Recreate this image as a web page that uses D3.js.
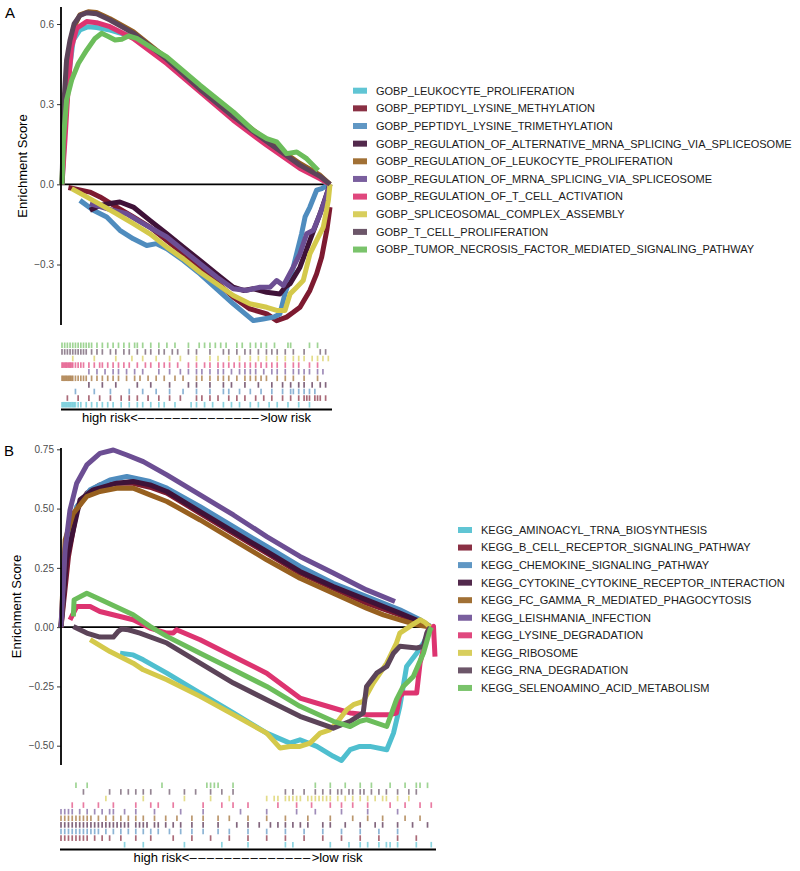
<!DOCTYPE html>
<html><head><meta charset="utf-8">
<script src="https://cdn.jsdelivr.net/npm/d3@7"></script>
<style>
body{margin:0;background:#fff}
text{font-family:"Liberation Sans",Arial,Helvetica,sans-serif}
</style></head>
<body><svg id="chart" width="800" height="871"></svg>
<script>
// ---------------- Panel A data (rank fraction, enrichment score) ----------------
const gobpNames = ["GOBP_LEUKOCYTE_PROLIFERATION","GOBP_PEPTIDYL_LYSINE_METHYLATION","GOBP_PEPTIDYL_LYSINE_TRIMETHYLATION","GOBP_REGULATION_OF_ALTERNATIVE_MRNA_SPLICING_VIA_SPLICEOSOME","GOBP_REGULATION_OF_LEUKOCYTE_PROLIFERATION","GOBP_REGULATION_OF_MRNA_SPLICING_VIA_SPLICEOSOME","GOBP_REGULATION_OF_T_CELL_ACTIVATION","GOBP_SPLICEOSOMAL_COMPLEX_ASSEMBLY","GOBP_T_CELL_PROLIFERATION","GOBP_TUMOR_NECROSIS_FACTOR_MEDIATED_SIGNALING_PATHWAY"];
const keggNames = ["KEGG_AMINOACYL_TRNA_BIOSYNTHESIS","KEGG_B_CELL_RECEPTOR_SIGNALING_PATHWAY","KEGG_CHEMOKINE_SIGNALING_PATHWAY","KEGG_CYTOKINE_CYTOKINE_RECEPTOR_INTERACTION","KEGG_FC_GAMMA_R_MEDIATED_PHAGOCYTOSIS","KEGG_LEISHMANIA_INFECTION","KEGG_LYSINE_DEGRADATION","KEGG_RIBOSOME","KEGG_RNA_DEGRADATION","KEGG_SELENOAMINO_ACID_METABOLISM"];
const seriesColors = ["#4fbfcf","#7d1a30","#4f8cbe","#3f1238","#97601f","#6c4e93","#dd3470","#d4c94b","#5c4459","#6cbd5b"];

const yTicksA = [-0.3, 0.0, 0.3, 0.6];
const yTicksB = [-0.50, -0.25, 0.00, 0.25, 0.50, 0.75];

const gobpLeukocyteProliferation = [[0,0],[0.011,0.215],[0.024,0.4],[0.042,0.54],[0.067,0.578],[0.098,0.59],[0.129,0.587],[0.179,0.577],[0.266,0.552],[0.391,0.465],[0.515,0.352],[0.639,0.253],[0.764,0.159],[0.888,0.067],[0.963,0.027],[1.0,0]];
const gobpPeptidylLysineMethylation = [[0.024,-0.012],[0.104,-0.029],[0.142,-0.047],[0.204,-0.085],[0.266,-0.122],[0.328,-0.16],[0.391,-0.21],[0.453,-0.26],[0.515,-0.31],[0.577,-0.366],[0.639,-0.422],[0.701,-0.466],[0.764,-0.485],[0.801,-0.51],[0.838,-0.497],[0.863,-0.479],[0.888,-0.46],[0.925,-0.397],[0.95,-0.335],[0.969,-0.272],[0.988,-0.172],[1.0,-0.085]];
const gobpPeptidylLysineTrimethylation = [[0.067,-0.06],[0.117,-0.097],[0.167,-0.122],[0.216,-0.172],[0.266,-0.204],[0.316,-0.229],[0.353,-0.222],[0.391,-0.241],[0.453,-0.285],[0.515,-0.335],[0.577,-0.391],[0.639,-0.447],[0.677,-0.479],[0.714,-0.51],[0.751,-0.504],[0.789,-0.497],[0.813,-0.485],[0.832,-0.41],[0.863,-0.31],[0.894,-0.185],[0.907,-0.122],[0.925,-0.085],[0.95,-0.022],[0.969,-0.016],[0.994,0]];
const gobpAltMrnaSplicing = [[0.104,-0.097],[0.142,-0.079],[0.179,-0.072],[0.216,-0.066],[0.266,-0.085],[0.328,-0.135],[0.391,-0.185],[0.453,-0.235],[0.515,-0.285],[0.577,-0.335],[0.639,-0.385],[0.677,-0.397],[0.714,-0.391],[0.764,-0.404],[0.813,-0.41],[0.832,-0.385],[0.851,-0.372],[0.888,-0.31],[0.925,-0.21],[0.963,-0.11],[0.988,-0.035],[1.0,0]];
const gobpRegLeukocyteProliferation = [[0,0],[0.007,0.19],[0.017,0.38],[0.03,0.5],[0.045,0.59],[0.067,0.634],[0.098,0.646],[0.129,0.643],[0.179,0.62],[0.266,0.571],[0.391,0.471],[0.515,0.359],[0.639,0.259],[0.764,0.165],[0.888,0.078],[0.963,0.034],[1.0,0]];
const gobpMrnaSplicing = [[0.104,-0.072],[0.167,-0.091],[0.241,-0.11],[0.303,-0.147],[0.391,-0.197],[0.453,-0.247],[0.515,-0.297],[0.577,-0.347],[0.639,-0.391],[0.689,-0.397],[0.739,-0.385],[0.776,-0.385],[0.801,-0.36],[0.826,-0.379],[0.863,-0.31],[0.888,-0.26],[0.913,-0.185],[0.938,-0.172],[0.963,-0.11],[0.981,-0.06],[1.0,0]];
const gobpRegTCellActivation = [[0,0],[0.011,0.165],[0.024,0.378],[0.036,0.515],[0.055,0.584],[0.092,0.609],[0.129,0.605],[0.179,0.59],[0.266,0.546],[0.391,0.452],[0.515,0.346],[0.639,0.24],[0.764,0.146],[0.888,0.059],[0.963,0.021],[1.0,0]];
const gobpSpliceosomalAssembly = [[0.036,-0.016],[0.092,-0.047],[0.142,-0.075],[0.204,-0.11],[0.266,-0.147],[0.328,-0.185],[0.391,-0.235],[0.453,-0.279],[0.515,-0.329],[0.577,-0.372],[0.639,-0.416],[0.701,-0.447],[0.764,-0.46],[0.801,-0.472],[0.832,-0.472],[0.851,-0.41],[0.876,-0.385],[0.9,-0.36],[0.925,-0.26],[0.95,-0.21],[0.975,-0.16],[0.994,-0.06],[1.0,0]];
const gobpTCellProliferation = [[0,0],[0.007,0.3],[0.017,0.465],[0.03,0.54],[0.045,0.6],[0.067,0.632],[0.092,0.642],[0.129,0.638],[0.179,0.615],[0.266,0.566],[0.391,0.468],[0.515,0.356],[0.639,0.254],[0.764,0.16],[0.888,0.072],[0.963,0.03],[1.0,0]];
const gobpTnfSignaling = [[0,0],[0.005,0.165],[0.017,0.315],[0.036,0.39],[0.061,0.452],[0.092,0.502],[0.123,0.546],[0.148,0.565],[0.173,0.553],[0.198,0.54],[0.223,0.543],[0.248,0.555],[0.279,0.546],[0.328,0.515],[0.391,0.477],[0.515,0.371],[0.639,0.271],[0.714,0.202],[0.764,0.171],[0.801,0.159],[0.838,0.115],[0.876,0.121],[0.913,0.096],[0.956,0.052]];

// ---------------- Panel B data ----------------
const keggAminoacylTrna = [[0.158,-0.11],[0.193,-0.117],[0.22,-0.138],[0.283,-0.194],[0.372,-0.278],[0.461,-0.362],[0.55,-0.447],[0.612,-0.489],[0.639,-0.475],[0.684,-0.503],[0.728,-0.545],[0.75,-0.562],[0.773,-0.517],[0.799,-0.503],[0.826,-0.503],[0.871,-0.517],[0.889,-0.447],[0.906,-0.334],[0.924,-0.166],[0.951,-0.11],[0.969,-0.067],[0.987,-0.011]];
const keggBCellReceptor = [[0,0],[0.02,0.298],[0.042,0.494],[0.069,0.565],[0.104,0.6],[0.149,0.607],[0.193,0.607],[0.238,0.59],[0.283,0.565],[0.372,0.48],[0.461,0.396],[0.55,0.312],[0.639,0.228],[0.728,0.164],[0.817,0.101],[0.906,0.052],[0.96,0.02],[0.987,0]];
const keggChemokine = [[0,0],[0.015,0.326],[0.042,0.508],[0.078,0.579],[0.131,0.621],[0.176,0.635],[0.238,0.614],[0.283,0.586],[0.372,0.508],[0.461,0.424],[0.55,0.34],[0.639,0.256],[0.728,0.185],[0.817,0.129],[0.906,0.073],[0.96,0.031],[0.987,0.003]];
const keggCytokineReceptor = [[0,0],[0.015,0.284],[0.051,0.537],[0.086,0.579],[0.149,0.607],[0.193,0.614],[0.238,0.6],[0.283,0.572],[0.372,0.487],[0.461,0.403],[0.55,0.319],[0.639,0.235],[0.728,0.171],[0.817,0.115],[0.906,0.059],[0.96,0.024],[0.987,0.003]];
const keggFcGammaPhagocytosis = [[0,0],[0.011,0.368],[0.033,0.48],[0.069,0.551],[0.104,0.572],[0.149,0.586],[0.193,0.586],[0.238,0.558],[0.283,0.53],[0.372,0.452],[0.461,0.368],[0.55,0.284],[0.639,0.206],[0.728,0.143],[0.817,0.08],[0.862,0.052],[0.906,0.031],[0.951,0.01],[0.987,0]];
const keggLeishmania = [[0,0],[0.011,0.326],[0.024,0.494],[0.042,0.607],[0.069,0.684],[0.104,0.733],[0.14,0.747],[0.176,0.726],[0.22,0.698],[0.283,0.642],[0.372,0.558],[0.461,0.473],[0.55,0.382],[0.639,0.298],[0.728,0.228],[0.817,0.157],[0.893,0.108]];
const keggLysineDegradation = [[0.024,0.031],[0.042,0.087],[0.078,0.087],[0.104,0.066],[0.193,0.031],[0.238,-0.004],[0.283,-0.025],[0.3,-0.025],[0.309,-0.011],[0.372,-0.053],[0.461,-0.124],[0.55,-0.194],[0.639,-0.299],[0.728,-0.341],[0.773,-0.362],[0.817,-0.369],[0.88,-0.369],[0.897,-0.362],[0.906,-0.292],[0.915,-0.278],[0.951,-0.278],[0.96,-0.152],[0.982,-0.011],[0.996,0.003],[1.0,-0.124]];
const keggRibosome = [[0.078,-0.053],[0.131,-0.103],[0.193,-0.152],[0.22,-0.18],[0.283,-0.222],[0.372,-0.292],[0.461,-0.369],[0.55,-0.447],[0.586,-0.51],[0.612,-0.503],[0.639,-0.503],[0.666,-0.489],[0.693,-0.447],[0.719,-0.433],[0.737,-0.404],[0.764,-0.348],[0.782,-0.327],[0.808,-0.313],[0.835,-0.236],[0.871,-0.152],[0.897,-0.067],[0.906,-0.025],[0.933,0.003],[0.96,0.031],[0.973,0.02],[0.987,0]];
const keggRnaDegradation = [[0.033,0.003],[0.069,-0.025],[0.104,-0.042],[0.14,-0.042],[0.153,-0.018],[0.162,-0.008],[0.18,-0.011],[0.211,-0.025],[0.283,-0.067],[0.372,-0.152],[0.461,-0.236],[0.55,-0.306],[0.639,-0.376],[0.728,-0.426],[0.773,-0.397],[0.808,-0.362],[0.817,-0.25],[0.844,-0.194],[0.871,-0.166],[0.889,-0.11],[0.906,-0.081],[0.951,-0.088],[0.969,-0.081],[0.978,-0.025],[0.987,0]];
const keggSelenoamino = [[0.033,0.045],[0.035,0.115],[0.069,0.143],[0.104,0.118],[0.193,0.052],[0.238,0.003],[0.283,-0.039],[0.372,-0.11],[0.461,-0.18],[0.55,-0.25],[0.639,-0.334],[0.728,-0.397],[0.773,-0.419],[0.799,-0.397],[0.817,-0.39],[0.871,-0.419],[0.897,-0.306],[0.915,-0.25],[0.942,-0.208],[0.969,-0.11],[0.987,-0.011],[0.991,0]];

// ---------------- Hit positions (rug rows) ----------------
const hitsA0 = [0,0.005,0.01,0.015,0.02,0.025,0.03,0.035,0.04,0.045,0.05,0.06,0.07,0.09,0.11,0.13,0.15,0.17,0.19,0.22,0.25,0.28,0.3,0.33,0.36,0.38,0.42,0.48,0.5,0.53,0.56,0.6,0.63,0.66,0.7,0.73,0.77,0.8,0.84,0.88,0.92];
const hitsA1 = [0.02,0.06,0.1,0.14,0.18,0.22,0.25,0.28,0.32,0.36,0.4,0.44,0.5,0.52,0.55,0.58,0.62,0.65,0.68,0.72,0.75,0.78,0.82,0.85,0.88,0.9,0.91,0.92,0.94,0.95,0.96,0.98];
const hitsA2 = [0.05,0.12,0.18,0.25,0.3,0.35,0.4,0.45,0.5,0.55,0.6,0.62,0.66,0.7,0.74,0.78,0.82,0.85,0.86,0.88,0.9,0.92,0.94];
const hitsA3 = [0.1,0.15,0.2,0.28,0.33,0.4,0.47,0.5,0.55,0.6,0.63,0.68,0.73,0.78,0.82,0.85,0.88,0.9,0.93,0.96,0.98];
const hitsA4 = [0,0.005,0.01,0.015,0.02,0.025,0.03,0.035,0.04,0.05,0.06,0.07,0.08,0.09,0.11,0.13,0.15,0.17,0.19,0.21,0.24,0.27,0.29,0.32,0.35,0.38,0.42,0.45,0.5,0.52,0.55,0.58,0.6,0.62,0.65,0.68,0.7,0.72,0.74,0.76,0.8,0.83,0.86,0.9,0.95];
const hitsA5 = [0.1,0.13,0.16,0.19,0.21,0.24,0.27,0.3,0.36,0.4,0.44,0.47,0.5,0.52,0.55,0.58,0.6,0.63,0.66,0.68,0.7,0.72,0.75,0.78,0.8,0.83,0.86,0.88,0.9,0.92,0.95,0.97];
const hitsA6 = [0,0.005,0.01,0.015,0.02,0.025,0.03,0.035,0.04,0.05,0.06,0.07,0.08,0.1,0.12,0.14,0.15,0.17,0.19,0.21,0.23,0.25,0.28,0.31,0.33,0.36,0.38,0.4,0.43,0.47,0.5,0.53,0.55,0.58,0.6,0.62,0.64,0.66,0.68,0.7,0.72,0.74,0.76,0.78,0.8,0.83,0.86,0.88,0.92,0.95];
const hitsA7 = [0.04,0.12,0.2,0.26,0.3,0.35,0.4,0.44,0.5,0.55,0.58,0.62,0.66,0.7,0.73,0.76,0.8,0.83,0.86,0.88,0.9,0.93,0.95,0.97,0.99];
const hitsA8 = [0,0.01,0.02,0.03,0.04,0.05,0.06,0.07,0.08,0.09,0.11,0.13,0.15,0.18,0.2,0.23,0.25,0.28,0.31,0.33,0.36,0.38,0.41,0.43,0.47,0.5,0.55,0.6,0.62,0.65,0.68,0.7,0.73,0.76,0.78,0.8,0.83,0.86,0.9,0.96,0.98];
const hitsA9 = [0,0.01,0.02,0.03,0.04,0.05,0.06,0.07,0.08,0.09,0.1,0.11,0.13,0.15,0.17,0.19,0.21,0.23,0.25,0.27,0.28,0.3,0.33,0.36,0.39,0.42,0.47,0.51,0.53,0.55,0.57,0.59,0.61,0.65,0.67,0.7,0.72,0.74,0.76,0.79,0.84,0.85,0.92,0.95];

const hitsB0 = [0.17,0.22,0.33,0.43,0.5,0.6,0.62,0.72,0.77,0.8,0.82,0.85,0.87,0.88,0.9,0.95,0.99];
const hitsB1 = [0,0.01,0.02,0.03,0.04,0.05,0.06,0.07,0.09,0.11,0.13,0.16,0.2,0.24,0.3,0.35,0.4,0.45,0.5,0.55,0.6,0.65,0.7,0.75,0.8,0.85,0.9,0.95];
const hitsB2 = [0,0.01,0.02,0.03,0.04,0.05,0.06,0.07,0.08,0.09,0.1,0.12,0.14,0.16,0.18,0.2,0.22,0.24,0.26,0.29,0.32,0.35,0.38,0.42,0.45,0.5,0.55,0.6,0.65,0.7,0.75,0.8,0.85,0.9];
const hitsB3 = [0,0.01,0.02,0.03,0.04,0.05,0.06,0.07,0.08,0.09,0.1,0.11,0.12,0.13,0.14,0.15,0.16,0.17,0.18,0.2,0.21,0.22,0.23,0.25,0.26,0.28,0.3,0.32,0.35,0.38,0.42,0.47,0.5,0.53,0.56,0.58,0.6,0.62,0.64,0.66,0.7,0.72,0.76,0.8,0.84,0.86,0.9,0.94,0.98];
const hitsB4 = [0,0.01,0.02,0.03,0.04,0.05,0.06,0.07,0.08,0.1,0.12,0.14,0.16,0.18,0.2,0.22,0.25,0.28,0.31,0.35,0.38,0.42,0.45,0.5,0.55,0.6,0.66,0.72,0.78,0.82,0.86,0.92,0.96];
const hitsB5 = [0,0.01,0.02,0.03,0.05,0.07,0.09,0.11,0.13,0.14,0.17,0.2,0.25,0.32,0.38,0.48,0.55,0.63,0.68,0.75,0.82,0.9];
const hitsB6 = [0.03,0.06,0.1,0.14,0.2,0.24,0.26,0.3,0.38,0.43,0.46,0.5,0.58,0.63,0.67,0.72,0.75,0.78,0.82,0.88,0.92,0.96,0.99];
const hitsB7 = [0.12,0.22,0.33,0.4,0.45,0.55,0.57,0.58,0.6,0.61,0.62,0.63,0.64,0.66,0.67,0.68,0.69,0.7,0.71,0.72,0.74,0.76,0.78,0.8,0.82,0.84,0.86,0.87,0.9,0.93];
const hitsB8 = [0.06,0.13,0.16,0.18,0.2,0.22,0.24,0.29,0.33,0.36,0.4,0.43,0.46,0.6,0.62,0.65,0.68,0.7,0.72,0.74,0.75,0.77,0.78,0.8,0.81,0.83,0.85,0.87,0.9,0.93,0.95];
const hitsB9 = [0.04,0.07,0.27,0.39,0.4,0.41,0.42,0.46,0.68,0.72,0.76,0.8,0.83,0.88,0.92,0.95,0.96,0.98];

const curvesA = [gobpLeukocyteProliferation,gobpPeptidylLysineMethylation,gobpPeptidylLysineTrimethylation,gobpAltMrnaSplicing,gobpRegLeukocyteProliferation,gobpMrnaSplicing,gobpRegTCellActivation,gobpSpliceosomalAssembly,gobpTCellProliferation,gobpTnfSignaling];
const curvesB = [keggAminoacylTrna,keggBCellReceptor,keggChemokine,keggCytokineReceptor,keggFcGammaPhagocytosis,keggLeishmania,keggLysineDegradation,keggRibosome,keggRnaDegradation,keggSelenoamino];
const hitsA = [hitsA0,hitsA1,hitsA2,hitsA3,hitsA4,hitsA5,hitsA6,hitsA7,hitsA8,hitsA9];
const hitsB = [hitsB0,hitsB1,hitsB2,hitsB3,hitsB4,hitsB5,hitsB6,hitsB7,hitsB8,hitsB9];

// ---------------- Drawing ----------------
const svg = d3.select("#chart");

function drawPanel(p) {
  const g = svg.append("g");
  const x = d3.scaleLinear().domain([0, 1]).range([p.x0, p.x1]);
  const y = d3.scaleLinear().domain(p.yDomain).range(p.yRange);

  g.append("text").attr("x", p.letterX).attr("y", p.letterY).attr("font-size", 15).attr("fill", "#000").text(p.letter);

  g.append("line").attr("x1", p.axisX).attr("x2", p.x1).attr("y1", y(0)).attr("y2", y(0))
    .attr("stroke", "#000").attr("stroke-width", 1.6);

  const line = d3.line().x(d => x(d[0])).y(d => y(d[1])).curve(d3.curveLinear);
  p.curves.forEach((c, i) => {
    g.append("path").attr("d", line(c)).attr("fill", "none")
      .attr("stroke", seriesColors[i]).attr("stroke-width", 5)
      .attr("stroke-linejoin", "round").attr("stroke-linecap", "butt");
  });

  const axis = d3.axisLeft(y).tickValues(p.ticks).tickSize(4).tickPadding(3).tickFormat(d3.format(p.fmt));
  const ag = g.append("g").attr("transform", `translate(${p.axisX},0)`).call(axis);
  ag.select(".domain").remove();
  ag.selectAll(".tick line").attr("stroke", "#333");
  ag.selectAll(".tick text").attr("fill", "#4d4d4d").attr("font-size", p.tickFont)
    .attr("font-family", '"Liberation Sans",Arial,sans-serif');
  g.append("line").attr("x1", p.axisX).attr("x2", p.axisX).attr("y1", p.axisTop).attr("y2", p.axisBottom)
    .attr("stroke", "#000").attr("stroke-width", 1.8);

  g.append("text").attr("transform", `translate(${p.titleX},${(p.axisTop + p.axisBottom) / 2}) rotate(-90)`)
    .attr("text-anchor", "middle").attr("font-size", 13).attr("fill", "#000").text("Enrichment Score");

  const nRows = p.hits.length;
  const rowH = (p.rugBottom - p.rugTop) / nRows;
  const xr = d3.scaleLinear().domain([0, 1]).range([p.rugX0 + 1, p.rugX1 - 1]);
  p.hits.forEach((h, i) => {
    const yb = p.rugBottom - i * rowH;
    g.append("g").selectAll("line").data(h).join("line")
      .attr("x1", d => xr(d)).attr("x2", d => xr(d))
      .attr("y1", yb - rowH + 0.5).attr("y2", yb - 0.5)
      .attr("stroke", seriesColors[i]).attr("stroke-width", 1.7).attr("stroke-opacity", 0.65);
  });
  g.append("line").attr("x1", p.rugX0).attr("x2", p.rugX1).attr("y1", p.rugBottom + 1.5).attr("y2", p.rugBottom + 1.5)
    .attr("stroke", "#000").attr("stroke-width", 2);

  const t = g.append("text").attr("x", (p.rugX0 + p.rugX1) / 2).attr("y", p.rugBottom + 14)
    .attr("text-anchor", "middle").attr("font-size", 13).attr("fill", "#000");
  t.append("tspan").text("high risk<");
  t.append("tspan").attr("letter-spacing", "1.5px").text("\u2013\u2013\u2013\u2013\u2013\u2013\u2013\u2013\u2013\u2013\u2013\u2013\u2013\u2013");
  t.append("tspan").text(">low risk");

  const lg = g.append("g");
  p.names.forEach((n, i) => {
    const yy = p.legY + i * p.legStep;
    lg.append("rect").attr("x", p.legX).attr("y", yy - 3).attr("width", 14).attr("height", 6)
      .attr("fill", seriesColors[i]).attr("opacity", 0.9);
    lg.append("text").attr("x", p.legX + 23).attr("y", yy).attr("dy", "0.35em")
      .attr("font-size", 11).attr("fill", "#1a1a1a").text(n);
  });
}

drawPanel({
  letter: "A", letterX: 5, letterY: 18,
  x0: 62, x1: 330, axisX: 61, axisTop: 7, axisBottom: 325,
  yDomain: [-0.3, 0.6], yRange: [264.5, 24], ticks: yTicksA, fmt: ".1f", tickFont: 10,
  titleX: 27,
  curves: curvesA, hits: hitsA, rugTop: 342, rugBottom: 408, rugX0: 61, rugX1: 332,
  names: gobpNames, legX: 353, legY: 90.7, legStep: 17.65
});

drawPanel({
  letter: "B", letterX: 4, letterY: 456,
  x0: 61, x1: 435, axisX: 61, axisTop: 448, axisBottom: 765,
  yDomain: [-0.5, 0.75], yRange: [745.7, 449.3], ticks: yTicksB, fmt: ".2f", tickFont: 10,
  titleX: 21,
  curves: curvesB, hits: hitsB, rugTop: 782, rugBottom: 848, rugX0: 60, rugX1: 436,
  names: keggNames, legX: 458, legY: 530, legStep: 17.55
});
</script>
</body></html>
